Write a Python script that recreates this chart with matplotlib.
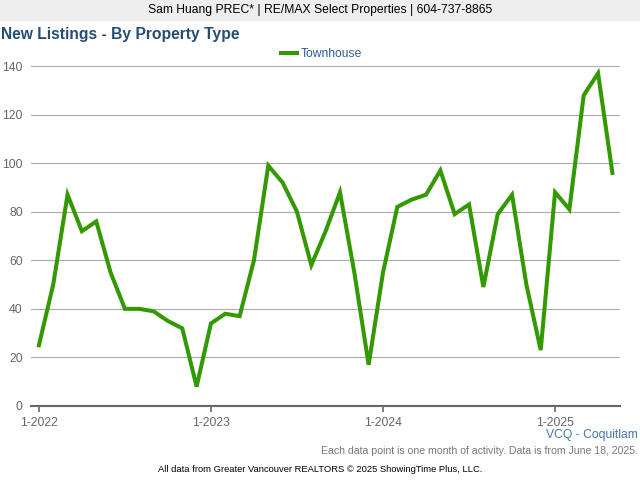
import numpy as np
import matplotlib
matplotlib.use('Agg')
import matplotlib.pyplot as plt
from matplotlib.patches import Rectangle

plt.rcParams['font.family'] = ['Liberation Sans', 'DejaVu Sans']

# monthly counts, Jan 2022 to May 2025
listings = [25, 50, 87, 72, 76, 55, 40, 40, 39, 35, 32, 8,
            34, 38, 37, 60, 99, 92, 80, 58, 72, 88, 55, 17,
            55, 82, 85, 87, 97, 79, 83, 49, 79, 87, 50, 23,
            88, 81, 128, 137, 96]
yticks = [0, 20, 40, 60, 80, 100, 120, 140]
xtick_pos = [0, 12, 24, 36]
xtick_labels = ['1-2022', '1-2023', '1-2024', '1-2025']

W, H = 640, 480
fig = plt.figure(figsize=(W / 100, H / 100), dpi=100)
ax = fig.add_axes([31 / W, 1 - 406 / H, 589 / W, 364 / H])

x = np.arange(len(listings))
ax.plot(x, listings, color='#339900', lw=2.9, solid_joinstyle='miter', label='Townhouse', zorder=3)

ax.set_xlim(-0.55, 40.53)
ax.set_ylim(0, 149.9)
ax.set_yticks(yticks)
ax.set_xticks(xtick_pos)
ax.set_xticklabels(xtick_labels)
ax.grid(axis='y', color='#aaaaaa', lw=0.8)
ax.set_axisbelow(True)
ax.tick_params(axis='y', length=0, labelsize=8.75, labelcolor='#666666', pad=6)
ax.tick_params(axis='x', length=4, width=1.2, color='#666666', labelsize=8.75, labelcolor='#666666', pad=4)
for s in ['top', 'right', 'left']:
    ax.spines[s].set_visible(False)
ax.spines['bottom'].set_color('#666666')
ax.spines['bottom'].set_linewidth(1.5)

ax.legend(loc='center', bbox_to_anchor=(0.493, 0.967), ncol=1, frameon=False, fontsize=8.75,
          labelcolor='#2f5f8f', handlelength=1.32, handletextpad=0.35)

# header band and page text
fig.add_artist(Rectangle((0, 1 - 20 / H), 1, 20 / H, transform=fig.transFigure, color='#eeeeee', zorder=0))
fig.text(0.5, 1 - 10.5 / H, 'Sam Huang PREC* | RE/MAX Select Properties | 604-737-8865', ha='center', va='center',
         fontsize=8.75, color='black')
fig.text(1 / W, 1 - 34 / H, 'New Listings - By Property Type', ha='left', va='center', fontsize=11.25,
         fontweight='bold', color='#264d73')
fig.text(638 / W, 1 - 435 / H, 'VCQ - Coquitlam', ha='right', va='center', fontsize=8.7, color='#4477aa')
fig.text(638 / W, 1 - 451.5 / H, 'Each data point is one month of activity. Data is from June 18, 2025.', ha='right',
         va='center', fontsize=7.58, color='#777777')
fig.text(158 / W, 1 - 470 / H, 'All data from Greater Vancouver REALTORS © 2025 ShowingTime Plus, LLC.', ha='left',
         va='center', fontsize=6.72, color='black')

fig.savefig('out.png', dpi=100)
